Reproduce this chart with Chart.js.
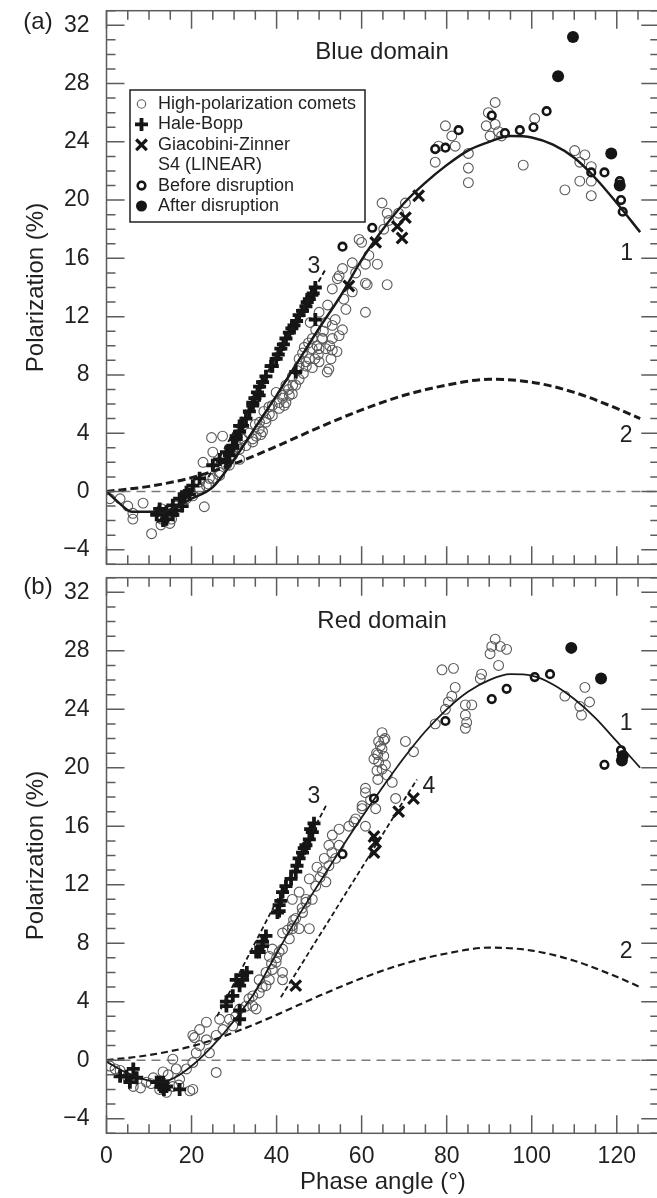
<!DOCTYPE html>
<html>
<head>
<meta charset="utf-8">
<script src="https://cdn.jsdelivr.net/npm/chart.js@4.4.1/dist/chart.umd.min.js"></script>
<style>
html, body { margin: 0; padding: 0; background: #fff; overflow: hidden; width: 657px; height: 1198px; }
#wrapA { position: absolute; left: 0; top: 0; }
#wrapB { position: absolute; left: 0; top: 567px; }
canvas { display: block; }
</style>
</head>
<body>
<div id="wrapA"><canvas id="chartA" width="670" height="575"></canvas></div>
<div id="wrapB"><canvas id="chartB" width="670" height="631"></canvas></div>
<script>
// ---- data, panel (a) blue domain ----
const curve1A_x = [0, 3, 6, 10, 13, 16, 20, 25, 30, 35, 40, 45, 50, 55, 60, 65, 70, 75, 80, 85, 90, 95, 100, 105, 110, 115, 120, 125.5];
const curve1A_y = [0, -0.8, -1.4, -1.4, -1.4, -1.1, -0.5, 0.3, 2.2, 4.4, 6.6, 8.9, 11.2, 13.4, 15.9, 18.0, 19.8, 21.2, 22.4, 23.4, 24.0, 24.4, 24.3, 23.8, 22.9, 21.5, 19.8, 17.8];
const curve2A_x = [0, 10, 20, 30, 40, 50, 60, 70, 80, 90, 100, 110, 120, 125.5];
const curve2A_y = [0, 0.35, 0.95, 1.9, 3.1, 4.4, 5.6, 6.6, 7.3, 7.7, 7.5, 6.8, 5.7, 5.0];
const curve3A_x = [24, 51.6];
const curve3A_y = [1.0, 15.3];

const highPolA = [
  [0.8,-0.5],[3.2,-0.5],[5,-1.0],[6.2,-1.5],[6.2,-1.9],[8.6,-0.8],[13,-1.2],[13,-1.9],[12.8,-2.3],[10.6,-2.9],
  [14.9,-2.2],[15.3,-1.9],[16.5,-1.0],[18.8,-0.5],[20.3,-0.3],[21.9,0.2],[23,-1.05],[24,0.5],[24.2,0.9],[24.7,3.7],
  [27.3,3.8],[25,2.7],[26.6,1.1],[28.2,1.8],[29.7,2.5],[22.7,2.0],[21.9,0.65],[23.5,0.4],[25,0.9],[26.6,1.3],
  [28.9,1.8],[29.7,2.7],[31.3,2.2],[31.3,2.9],[32,3.6],[32.8,3.15],[34.4,3.6],[34.4,3.4],[35.2,3.8],[35.9,4.3],
  [36.3,3.9],[36.7,4.1],[36,4.75],[37.5,4.75],[37.5,5.0],[38.3,5.3],[35,4.6],[39,5.9],[39,5.2],[40.6,5.7],
  [40.6,6.1],[39.9,6.8],[41.4,6.4],[41.4,6.6],[41.8,5.9],[42.2,6.1],[42.2,7.3],[43,6.6],[43.7,6.7],[43.8,7.3],
  [43.7,7.9],[44.5,7.3],[45.3,7.7],[45.3,8.6],[45.3,9.1],[46.1,9.5],[46.9,8.9],[47,8.6],[47.7,9.1],[48.4,8.5],
  [49,9.1],[50,8.9],[51.9,8.2],[52.3,8.4],[50,9.8],[50.7,10.5],[48.4,9.8],[51.6,9.8],[53.1,9.7],[48.4,10.5],
  [50.8,10.5],[53.1,10.5],[54.7,10.7],[49.2,11.1],[51.6,11.6],[53.1,11.4],[55.5,11.1],[50,12.3],[56.3,12.5],[53.1,13.9],
  [57.8,13.7],[54.7,14.8],[54.3,14.6],[60.9,14.3],[61.3,14.2],[60.9,12.3],[58.6,15],[55.5,15.3],[57.8,15.7],[59.4,17.3],
  [60,17.1],[61.7,16.2],[60.9,15.6],[63.7,15.6],[66,14.2],[64.8,19.8],[66,19.1],[66.4,18.6],[68.7,19.1],[70.3,19.8],
  [65.2,18],[77.3,22.6],[78.1,23.7],[79.7,25.1],[81.2,24.4],[82,23.7],[85.1,23.2],[85.1,22.2],[85.1,21.2],[89.3,25.1],
  [89.8,26.0],[91.4,26.7],[91.4,25.2],[92.2,24.7],[90.2,24.4],[92.9,24.4],[98,22.4],[100.7,25.6],[107.8,20.7],[110.1,23.4],
  [111.3,22.6],[111.3,21.3],[112.5,23.1],[114,22.3],[114,21.3],[114,20.3],
  [47.5,10.2],[49.5,10.0],[51,11.0],[52.5,10.0],[53.8,11.8],[52,12.8],[49.8,9.4],[46.5,9.9],[47.9,11.6],[54.2,9.6],
  [55.8,13.2],[52.8,9.1],[44.8,8.3],[46.3,8.1],[42.8,7.0],[38.2,5.8],[37,5.5],[33.5,4.0],[30.6,3.2],[27.8,2.3]
];
const haleBoppA = [
  [12.5,-1.2],[14.1,-1.4],[15.6,-0.95],[17.2,-0.5],[18.4,-0.27],[14.1,-1.9],[15.6,-1.6],[11.8,-1.6],[18.8,-0.05],[20.3,0.4],
  [21.9,0.9],[13.3,-2.0],[16.4,-1.3],[17.8,-1.0],[19.5,-0.2],[25,1.8],[26.6,2.2],[28.2,2.7],[28.2,2.0],[28.9,2.5],
  [29.7,3.15],[29.7,3.0],[30.5,3.8],[30.5,3.6],[31.3,4.5],[31.3,4.1],[32,4.5],[32.8,5.0],[33.6,5.5],[34.4,5.9],
  [34.4,6.1],[35.5,6.8],[35.9,6.6],[36.7,7.5],[37.5,7.9],[38.7,8.6],[39,8.6],[39.9,9.1],[41,9.8],[42.2,10.5],
  [43,10.9],[44.1,11.4],[45.3,12.1],[46.9,12.7],[47.7,13.2],[49.1,14.0],[48.6,13.6],[49.1,11.8],[44.5,8.2],[36,7.2],
  [34.9,6.4],[40.4,9.4],[41.6,10.1],[43.6,11.2],[44.7,11.7],[46.1,12.4],[47.2,13.0],[48.3,13.5]
];
const giacobiniA = [[73.4,20.3],[70.3,18.8],[69.5,17.4],[68.4,18.2],[63.3,17.1],[57,14.1]];
const s4BeforeA = [
  [82.8,24.8],[77.3,23.5],[79.7,23.6],[90.6,25.8],[93.7,24.6],[97.2,24.8],[100.4,25.0],[103.5,26.1],
  [117.1,21.9],[114,21.9],[120.7,21.3],[121,20.0],[121.4,19.2],[62.5,18.1],[55.5,16.8]
];
const s4AfterA = [[109.7,31.2],[106.2,28.5],[118.7,23.2],[120.7,21.0]];

// ---- data, panel (b) red domain ----
const curve1B_x = [0, 5, 10, 13, 16, 20, 25, 30, 35, 40, 45, 50, 55, 60, 65, 70, 75, 80, 85, 90, 95, 100, 105, 110, 115, 120, 125.5];
const curve1B_y = [-0.1, -0.9, -1.4, -1.5, -1.2, -0.4, 1.0, 2.7, 4.7, 7.3, 9.8, 12.1, 14.4, 16.6, 18.7, 20.7, 22.5, 24.0, 25.2, 26.0, 26.4, 26.3, 25.7, 24.7, 23.4, 21.8, 20.0];
const curve2B_x = [0, 10, 20, 30, 40, 50, 60, 70, 80, 90, 100, 110, 120, 125.5];
const curve2B_y = [0, 0.35, 0.95, 1.9, 3.1, 4.4, 5.6, 6.6, 7.3, 7.7, 7.5, 6.8, 5.7, 5.0];
const curve3B_x = [26, 51.6];
const curve3B_y = [3.0, 17.4];
const curve4B_x = [41, 73];
const curve4B_y = [4.3, 19.2];

const highPolB = [
  [0.8,-0.4],[3.2,-0.7],[6.3,-1.8],[9.4,-1.5],[11,-1.2],[13.3,-0.8],[12.5,-2.0],[14.1,-2.2],[15.6,-1.8],[17.2,-1.3],
  [19.6,-2.1],[18.8,-0.6],[16.4,-0.6],[15.6,0.07],[20.3,-0.16],[21.1,0.5],[21.9,1.0],[20.7,1.55],[23.5,1.4],[23.5,2.6],
  [25.8,-0.84],[24.2,0.5],[25.8,1.7],[27.4,2.1],[29.7,2.35],[28.9,2.8],[31.3,3.5],[32.8,3.7],[35.2,3.5],[34.4,4.4],
  [20.3,1.7],[21.9,2.1],[26.6,2.8],[20.3,-2.0],[34.4,3.7],[8,-1.9],[10.5,-1.6],[13,-1.5],[14.5,-1.0],[17,-1.7],
  [5,-1.2],[2,-0.6],[35.9,5.5],[37.5,6.0],[38.3,7.1],[39,7.6],[41.4,8.7],[43.7,9.2],[47.7,9.0],[41.4,5.5],
  [43.7,11.0],[45.3,11.5],[46.9,11.0],[35.9,4.6],[37.5,5.1],[38.3,5.5],[39,6.2],[41.4,6.0],[39.9,6.7],[40.6,7.4],
  [41.4,7.6],[43,8.3],[43.7,9.0],[45.3,9.0],[44.5,9.7],[46.1,10.1],[46.9,10.8],[48.4,11.0],[47.7,12.4],[49.2,11.9],
  [51.6,12.2],[50.8,12.9],[52.3,13.3],[53.9,13.8],[52.3,14.7],[54.7,14.7],[53.1,15.4],[54.7,15.8],[57,16.0],[58.6,16.5],
  [60.9,16.0],[60.1,17.4],[60.9,18.6],[58.2,16.3],[60.9,18.3],[62.1,17.8],[60.1,17.2],[63.3,17.2],[68,17.9],[64.8,22.4],
  [64,21.8],[64.8,21.3],[65.2,20.8],[64,20.4],[64.8,19.9],[66,19.5],[67.2,19.0],[70.3,21.8],[72.2,21.1],[63.5,21.0],
  [65.5,22.0],[63.8,19.2],[91.4,28.8],[90.6,28.3],[92.6,28.3],[94.1,28.1],[90.2,27.8],[92.2,27.0],[88.2,26.4],[87.9,26.1],
  [78.9,26.7],[81.6,26.8],[82,25.5],[81.2,24.9],[80.4,24.5],[79.7,24.0],[84.4,24.3],[85.9,24.3],[84.4,23.6],[84.7,23.1],
  [84.4,22.7],[77.3,23.0],[107.8,24.9],[112.5,25.5],[113.6,24.5],[111.3,24.2],[111.7,23.6],
  [63.8,20.9],[64.4,21.5],[65.6,20.2],[63.6,19.8],[65.2,21.9],[62.9,20.6],[50.2,12.5],[49.5,13.2],[51.2,13.8],[53,14.2],
  [46,10.4],[44,9.6],[42.6,8.9],[40,7.0],[38.8,6.6],[36.6,5.0],[33.5,4.2],[30.4,3.0]
];
const haleBoppB = [
  [6.3,-0.6],[4.7,-1.1],[7.1,-1.2],[11.8,-1.5],[13.3,-1.5],[14.1,-1.8],[17.2,-2.0],[3.2,-1.1],[5.5,-1.5],[12.5,-1.5],
  [13.5,-2.0],[12.8,-1.8],[28.2,4.0],[31.3,2.8],[30.5,5.5],[32,5.8],[28.2,3.7],[31.3,5.1],[32,5.5],[35.2,7.4],
  [36.7,8.1],[35.9,7.4],[36.7,7.8],[37.5,8.5],[40.6,10.2],[40.2,10.1],[40.6,10.6],[41.4,11.5],[42.2,11.9],[43.4,12.4],
  [44.5,12.9],[45.3,13.8],[46.1,14.2],[46.9,14.7],[47.7,15.1],[48.4,15.6],[48.8,16.2],[31.3,3.4],[29.7,4.4],[33,6.0],
  [41,10.9],[44.8,13.3],[46.5,14.5],[48,15.8]
];
const giacobiniB = [[72.2,17.9],[68.7,17.0],[63.3,14.9],[62.9,14.2],[44.5,5.1],[62.9,15.3]];
const s4BeforeB = [[79.7,23.2],[90.6,24.7],[94.1,25.4],[100.7,26.2],[104.3,26.4],[117.1,20.2],[121,21.2],[62.9,17.9],[55.5,14.1]];
const s4AfterB = [[109.3,28.2],[116.3,26.1],[121.4,20.8],[121.2,20.5]];

const zeroLine_x = [0, 130];
const zeroLine_y = [0, 0];

const legendLabels = ['High-polarization comets', 'Hale-Bopp', 'Giacobini-Zinner', 'S4 (LINEAR)', 'Before disruption', 'After disruption'];

// ---- styles ----
const FONT = "'Liberation Sans', Arial, Helvetica, sans-serif";
const INK = '#231f20';
Chart.defaults.font.family = FONT;
Chart.defaults.color = INK;

const hpStyle = { pointStyle: 'circle', pointRadius: 4.9, pointBorderWidth: 1.1, pointBorderColor: '#5a5a5a', pointBackgroundColor: 'rgba(0,0,0,0)', legendRadius: 4.2 };
const hbStyle = { pointStyle: 'cross', pointRadius: 6.5, pointBorderWidth: 3.8, pointBorderColor: '#151515', pointBackgroundColor: '#151515', legendRadius: 6.5 };
const gzStyle = { pointStyle: 'crossRot', pointRadius: 7.5, pointBorderWidth: 3.2, pointBorderColor: '#151515', pointBackgroundColor: '#151515', legendRadius: 7.5 };
const beforeStyle = { pointStyle: 'circle', pointRadius: 3.8, pointBorderWidth: 2.6, pointBorderColor: '#151515', pointBackgroundColor: '#fff', legendRadius: 3.8 };
const afterStyle = { pointStyle: 'circle', pointRadius: 6, pointBorderWidth: 0, pointBorderColor: '#151515', pointBackgroundColor: '#151515', legendRadius: 5.5 };

function pts(pairs) { return pairs.map(p => ({ x: p[0], y: p[1] })); }
function curve(xs, ys) { return xs.map((x, i) => ({ x: x, y: ys[i] })); }

function lineSet(xs, ys, width, dash, color) {
  return {
    data: curve(xs, ys), showLine: true, borderColor: color || '#1a1a1a', borderWidth: width,
    borderDash: dash, pointRadius: 0, cubicInterpolationMode: 'monotone', fill: false
  };
}
function markSet(label, pairs, style) {
  return Object.assign({ label: label, data: pts(pairs), showLine: false, pointHoverRadius: 0 }, style);
}

// frame, inward ticks, annotations and the inset legend
const frameTicks = {
  id: 'frameTicks',
  afterDatasetsDraw(chart, args, opts) {
    const { ctx, chartArea: a, scales: { x, y } } = chart;
    ctx.save();
    ctx.strokeStyle = '#5c5c5c';
    ctx.lineWidth = 1.5;
    ctx.strokeRect(a.left, a.top, a.right - a.left, a.bottom - a.top);
    ctx.beginPath();
    for (let v = 0; v <= 130; v += 5) {
      const px = x.getPixelForValue(v);
      const len = v % 20 === 0 ? 18 : 9;
      ctx.moveTo(px, a.bottom); ctx.lineTo(px, a.bottom - len);
      ctx.moveTo(px, a.top); ctx.lineTo(px, a.top + len);
    }
    for (let v = -5; v <= 33; v += 1) {
      const py = y.getPixelForValue(v);
      const len = v % 4 === 0 ? 18 : 9;
      ctx.moveTo(a.left, py); ctx.lineTo(a.left + len, py);
      ctx.moveTo(a.right, py); ctx.lineTo(a.right - len, py);
    }
    ctx.stroke();

    ctx.fillStyle = INK;
    ctx.textAlign = 'center';
    ctx.textBaseline = 'middle';
    ctx.font = '24px ' + FONT;
    ctx.fillText(opts.tag, 38, opts.tagY);
    (opts.notes || []).forEach(n => {
      ctx.font = n.size + 'px ' + FONT;
      ctx.fillText(n.text, x.getPixelForValue(n.x), y.getPixelForValue(n.y));
    });

    if (opts.legend) {
      const L = opts.legend;
      ctx.strokeStyle = INK;
      ctx.lineWidth = 1.5;
      ctx.strokeRect(L.left, L.top, L.width, L.height);
      ctx.font = '18px ' + FONT;
      ctx.textAlign = 'left';
      const sets = chart.data.datasets;
      legendLabels.forEach((lab, i) => {
        const ry = L.top + L.first + i * L.step;
        const ds = sets.find(d => d.label === lab);
        if (ds) {
          ctx.strokeStyle = ds.pointBorderColor;
          ctx.fillStyle = ds.pointBackgroundColor;
          ctx.lineWidth = ds.pointBorderWidth;
          Chart.helpers.drawPoint(ctx, { pointStyle: ds.pointStyle, radius: ds.legendRadius, borderWidth: ds.pointBorderWidth, rotation: 0 }, L.left + 11.5, ry);
        }
        ctx.fillStyle = INK;
        ctx.fillText(lab, L.left + 28, ry);
      });
    }
    ctx.restore();
  }
};

function makeChart(id, sets, conf) {
  return new Chart(document.getElementById(id), {
    type: 'scatter',
    data: { datasets: sets },
    options: {
      responsive: false,
      animation: false,
      devicePixelRatio: 1,
      events: [],
      layout: { padding: { top: 10, right: 8.5, bottom: conf.bottomPad, left: 0 } },
      scales: {
        x: {
          type: 'linear', min: 0, max: 130, display: conf.showX,
          grid: { display: false }, border: { display: false },
          ticks: { stepSize: 20, includeBounds: false, autoSkip: false, maxRotation: 0, padding: 2, font: { size: 23 }, color: INK },
          title: { display: true, text: 'Phase angle (°)', font: { size: 24 }, color: INK, padding: { top: 0, bottom: 1 } },
          afterFit: s => { if (conf.showX) s.height = conf.xHeight; s.paddingLeft = 0; s.paddingRight = 0; }
        },
        y: {
          type: 'linear', min: -5, max: 33,
          grid: { display: false }, border: { display: false },
          ticks: { stepSize: 4, includeBounds: false, padding: 9, font: { size: 23 }, color: INK,
                   callback: v => v < 0 ? '\u2212' + (-v) : String(v) },
          title: { display: true, text: 'Polarization (%)', font: { size: 24 }, color: INK, padding: { top: 21.6, bottom: 0 } },
          afterFit: s => { s.width = 106.5; s.paddingTop = 0; s.paddingBottom = 0; }
        }
      },
      plugins: {
        legend: { display: false },
        tooltip: { enabled: false },
        frameTicks: conf.frame
      }
    },
    plugins: [frameTicks]
  });
}

// (a) Blue domain
makeChart('chartA', [
  lineSet(curve1A_x, curve1A_y, 2.5, []),
  lineSet(curve3A_x, curve3A_y, 2, [5, 3]),
  lineSet(curve2A_x, curve2A_y, 3, [8, 4]),
  markSet('Hale-Bopp', haleBoppA, hbStyle),
  markSet('Giacobini-Zinner', giacobiniA, gzStyle),
  markSet('After disruption', s4AfterA, afterStyle),
  markSet('Before disruption', s4BeforeA, beforeStyle),
  markSet('High-polarization comets', highPolA, hpStyle),
  lineSet(zeroLine_x, zeroLine_y, 1.4, [9, 6], '#7a7a7a')
], {
  showX: false, bottomPad: 10,
  frame: {
    tag: '(a)', tagY: 22.5,
    notes: [
      { text: 'Blue domain', x: 64.8, y: 30.15, size: 24 },
      { text: '1', x: 122.3, y: 16.3, size: 23 },
      { text: '2', x: 122.2, y: 3.85, size: 23 },
      { text: '3', x: 48.8, y: 15.4, size: 23 }
    ],
    legend: { left: 130, top: 90, width: 235, height: 132, first: 14, step: 20.4 }
  }
});

// (b) Red domain
makeChart('chartB', [
  lineSet(curve1B_x, curve1B_y, 1.8, []),
  lineSet(curve3B_x, curve3B_y, 1.8, [5, 3]),
  lineSet(curve4B_x, curve4B_y, 1.8, [5, 3]),
  lineSet(curve2B_x, curve2B_y, 2.2, [7, 4]),
  markSet('Hale-Bopp', haleBoppB, hbStyle),
  markSet('Giacobini-Zinner', giacobiniB, gzStyle),
  markSet('After disruption', s4AfterB, afterStyle),
  markSet('Before disruption', s4BeforeB, beforeStyle),
  markSet('High-polarization comets', highPolB, hpStyle),
  lineSet(zeroLine_x, zeroLine_y, 1.4, [9, 6], '#7a7a7a')
], {
  showX: true, bottomPad: 0, xHeight: 64.7,
  frame: {
    tag: '(b)', tagY: 20,
    notes: [
      { text: 'Red domain', x: 64.8, y: 30.0, size: 24 },
      { text: '1', x: 122.2, y: 23.05, size: 23 },
      { text: '2', x: 122.2, y: 7.45, size: 23 },
      { text: '3', x: 48.8, y: 18.0, size: 23 },
      { text: '4', x: 75.8, y: 18.7, size: 23 }
    ]
  }
});
</script>
</body>
</html>
